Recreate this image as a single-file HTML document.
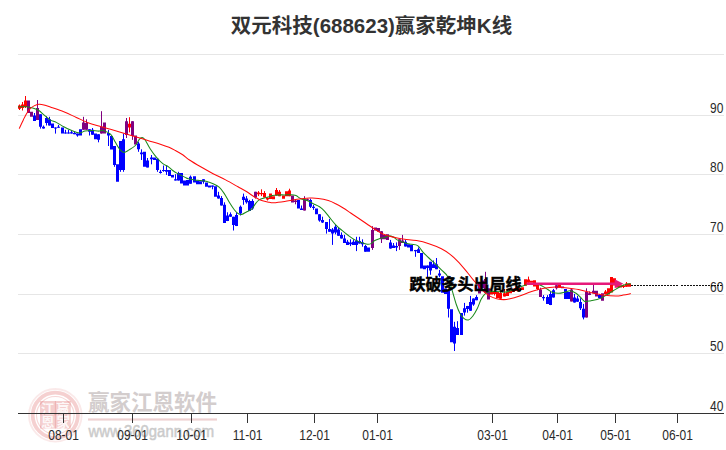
<!DOCTYPE html>
<html lang="zh">
<head>
<meta charset="utf-8">
<title>K线</title>
<style>
html,body{margin:0;padding:0;background:#ffffff;}
body{width:726px;height:450px;overflow:hidden;font-family:"Liberation Sans",sans-serif;}
svg{display:block;}
</style>
</head>
<body>
<svg width="726" height="450" viewBox="0 0 726 450">
<rect x="0" y="0" width="726" height="450" fill="#ffffff"/>
<g stroke="#e6e6e6" stroke-width="1" shape-rendering="crispEdges">
<line x1="18" y1="54.5" x2="724" y2="54.5"/>
<line x1="18" y1="115.5" x2="724" y2="115.5"/>
<line x1="18" y1="174.5" x2="724" y2="174.5"/>
<line x1="18" y1="234.5" x2="724" y2="234.5"/>
<line x1="18" y1="294.5" x2="724" y2="294.5"/>
<line x1="18" y1="353.5" x2="724" y2="353.5"/>
</g>
<g id="wm">
<circle cx="55.3" cy="415.3" r="26.3" fill="none" stroke="#d84a4a" stroke-opacity="0.12" stroke-width="1.8"/>
<circle cx="55.3" cy="415.3" r="22.6" fill="none" stroke="#d84a4a" stroke-opacity="0.26" stroke-width="3.8"/>
<circle cx="55.3" cy="415.3" r="18.8" fill="none" stroke="#d84a4a" stroke-opacity="0.22" stroke-width="1.1"/>
<rect x="40" y="401" width="30.8" height="27.6" fill="#d84a4a" fill-opacity="0.27"/>
<g font-family="'Liberation Sans', 'Noto Sans CJK SC', sans-serif" font-size="13.5" font-weight="bold" fill="#ffffff" fill-opacity="0.85">
<text x="41" y="413.6">江</text>
<text x="56.2" y="413.6">赢</text>
<text x="41" y="427.3">恩</text>
<text x="56.4" y="427.3">家</text>
</g>
<path d="M55.4 401V428.6M40 414.8H70.8" stroke="#d84a4a" stroke-opacity="0.25" stroke-width="0.9" fill="none"/>
<text x="88" y="410" font-family="'Liberation Sans', 'Noto Sans CJK SC', sans-serif" font-size="21.5" font-weight="bold" fill="#d3cdcd">赢家江恩软件</text>
<rect x="88" y="418.4" width="129" height="2.2" fill="#efd2d2"/>
<text x="88.6" y="437" font-family="'Liberation Sans', sans-serif" font-size="16.5" fill="#cbcbcb" stroke="#cbcbcb" stroke-width="0.5" textLength="125.5" lengthAdjust="spacingAndGlyphs">www.360gann.com</text>
</g>
<g stroke="#333333" stroke-width="1" shape-rendering="crispEdges">
<line x1="18" y1="413.5" x2="724" y2="413.5"/>
<line x1="63.5" y1="413" x2="63.5" y2="423"/>
<line x1="132.5" y1="413" x2="132.5" y2="423"/>
<line x1="191.5" y1="413" x2="191.5" y2="423"/>
<line x1="247.5" y1="413" x2="247.5" y2="423"/>
<line x1="314.5" y1="413" x2="314.5" y2="423"/>
<line x1="377.5" y1="413" x2="377.5" y2="423"/>
<line x1="492.5" y1="413" x2="492.5" y2="423"/>
<line x1="557.5" y1="413" x2="557.5" y2="423"/>
<line x1="615.5" y1="413" x2="615.5" y2="423"/>
<line x1="677.5" y1="413" x2="677.5" y2="423"/>
</g>
<g font-family="'Liberation Sans', sans-serif" font-size="12" fill="#2a2a2a">
<text transform="translate(63.6 440) scale(1 1.16)" text-anchor="middle">08-01</text>
<text transform="translate(132.6 440) scale(1 1.16)" text-anchor="middle">09-01</text>
<text transform="translate(191.6 440) scale(1 1.16)" text-anchor="middle">10-01</text>
<text transform="translate(247.6 440) scale(1 1.16)" text-anchor="middle">11-01</text>
<text transform="translate(314.6 440) scale(1 1.16)" text-anchor="middle">12-01</text>
<text transform="translate(377.6 440) scale(1 1.16)" text-anchor="middle">01-01</text>
<text transform="translate(492.6 440) scale(1 1.16)" text-anchor="middle">03-01</text>
<text transform="translate(557.6 440) scale(1 1.16)" text-anchor="middle">04-01</text>
<text transform="translate(615.6 440) scale(1 1.16)" text-anchor="middle">05-01</text>
<text transform="translate(677.6 440) scale(1 1.16)" text-anchor="middle">06-01</text>
<text transform="translate(723.4 113) scale(1 1.16)" text-anchor="end">90</text>
<text transform="translate(723.4 172) scale(1 1.16)" text-anchor="end">80</text>
<text transform="translate(723.4 232) scale(1 1.16)" text-anchor="end">70</text>
<text transform="translate(723.4 292) scale(1 1.16)" text-anchor="end">60</text>
<text transform="translate(723.4 351) scale(1 1.16)" text-anchor="end">50</text>
<text transform="translate(723.4 411) scale(1 1.16)" text-anchor="end">40</text>
</g>
<path d="M631 285.5H679M681 285.5H723" stroke="#111111" stroke-width="1" stroke-dasharray="2 1" shape-rendering="crispEdges" fill="none"/>
<path d="M34.5 113V121M40.5 114.3V128.6M43.5 125.5V128.6M46.5 116.2V125.5M49.5 116.8V125.5M55.5 127.4V133.6M58.5 124.9V127.65M65.5 129.8V133.6M68.5 129.8V133.6M71.5 130.5V133.6M74.5 131.5V134.2M77.5 133.6V136.7M89.5 129.2V135.5M92.5 128V134.8M98.5 134.2V142.3M108.5 129.9V146M114.5 146V166.8M120.5 141V171.8M123.5 133.6V171.8M138.5 141.7V151.8M141.5 149.3V160M147.5 158V167.4M151.5 155V164.3M157.5 158.7V171.8M160.5 169.9V173.6M163.5 165.5V171.8M166.5 165.5V174.9M175.5 174.2V180.5M178.5 171.8V180.5M190.5 175.5V183.7M203.5 179.3V183.7M212.5 185.5V189.3M218.5 191.8V198.6M221.5 196.1V205.5M224.5 202.3V223M227.5 212.3V221.1M230.5 212.4V216.8M233.5 216.8V230.5M236.5 212.4V226.1M240.5 205.5V215.5M243.5 193.6V204.8M246.5 196.1V203.6M249.5 199.9V211M252.5 199.2V209.8M301.5 205.5V209.9M310.5 198.7V208M313.5 204.9V209.9M319.5 214.2V221.7M322.5 216.7V223M326.5 222V233.6M329.5 219V231.8M332.5 228V244.9M335.5 225V234.3M338.5 228V235.8M341.5 232.4V238.6M344.5 234.9V243M347.5 239.9V244.9M350.5 239.3V246.1M353.5 239.3V244.9M356.5 236.8V251.1M359.5 236.8V243.6M362.5 239.3V246.7M365.5 244.9V251.7M390.5 239.9V248.6M393.5 243V248M396.5 242.4V251.1M405.5 239.9V246.5M415.5 249.9V256.8M418.5 247.4V253M427.5 265.5V277.8M430.5 261.8V274.8M433.5 260.5V268M436.5 258V269.2M439.5 269.9V277.2M448.5 290.9V317.5M454.5 321.8V351M457.5 321.2V334.9M464.5 302.9V315.6M467.5 305.9V312.7M470.5 295.9V310.8M473.5 298.4V305.8M476.5 295.2V300.2M543.5 295.1V300.7M547.5 295.1V303.9M550.5 291.4V305.1M553.5 288.9V297.6M574.5 293.9V302.6M577.5 295.8V301.8M580.5 298.2V310M583.5 303.9V319.4M599.5 293.9V298.2" stroke="#0000ff" stroke-width="1" fill="none"/>
<path d="M33 115.5h3v5.5h-3zM39 114.3h3v12.4h-3zM42 126.7h3v1.9h-3zM45 118h3v5h-3zM48 119.3h3v6.2h-3zM51 123.6h3v4.4h-3zM54 127.4h3v1.2h-3zM57 126.65h3v1h-3zM61 127.4h3v6.2h-3zM64 132.6h3v1h-3zM67 132.6h3v1h-3zM70 132.3h3v1.3h-3zM73 133h3v1.2h-3zM76 133.6h3v1.9h-3zM79 129.2h3v6.3h-3zM88 129.2h3v2.5h-3zM91 129.8h3v5h-3zM94 133.6h3v5.6h-3zM97 134.2h3v5.6h-3zM107 133h3v2.5h-3zM110 136h3v13.5h-3zM113 146h3v18.9h-3zM116 164.3h3v17.4h-3zM119 141h3v28.9h-3zM122 139.2h3v30.7h-3zM137 143.4h3v5.9h-3zM140 152.5h3v1.8h-3zM143 151.8h3v15h-3zM146 160.5h3v6.9h-3zM150 157.4h3v1.9h-3zM153 157.4h3v2.6h-3zM156 158.7h3v11.2h-3zM159 171.8h3v1.2h-3zM162 169.9h3v1.2h-3zM165 170h3v1.8h-3zM168 169.9h3v6.2h-3zM171 174.9h3v2.5h-3zM174 179.2h3v1.3h-3zM177 173h3v7.5h-3zM180 173h3v10.6h-3zM183 180.5h3v5h-3zM186 180h3v5.5h-3zM189 176.8h3v6.9h-3zM193 176.2h3v6.2h-3zM196 180.5h3v3.8h-3zM199 181.2h3v3.1h-3zM202 179.3h3v2.5h-3zM205 182.4h3v4.4h-3zM208 185.5h3v1.9h-3zM211 185.5h3v1.3h-3zM214 186.2h3v10.5h-3zM217 195.5h3v3.1h-3zM220 198h3v7.5h-3zM223 204.8h3v18.2h-3zM226 215.5h3v5.6h-3zM229 214.3h3v2.5h-3zM232 216.8h3v8.1h-3zM235 214.9h3v11.2h-3zM239 206.7h3v6.9h-3zM242 196.7h3v3.2h-3zM245 198.6h3v3.7h-3zM248 201.1h3v9.9h-3zM251 201.1h3v7.5h-3zM297 199.9h3v8.7h-3zM300 208.6h3v1.3h-3zM309 199.9h3v6.9h-3zM312 206.8h3v1.2h-3zM315 208.6h3v5.6h-3zM318 214.2h3v6.3h-3zM321 219.9h3v2.5h-3zM325 222h3v7h-3zM328 229h3v2.8h-3zM331 229.5h3v4h-3zM334 226.8h3v5.6h-3zM337 229.5h3v6.3h-3zM340 234.9h3v3.7h-3zM343 238.6h3v4.4h-3zM346 241.8h3v3.1h-3zM349 242.4h3v1.8h-3zM352 241.8h3v3.1h-3zM355 240.5h3v4.4h-3zM358 241.1h3v2.5h-3zM361 242.4h3v1.8h-3zM364 246.1h3v5.6h-3zM367 247.4h3v4.3h-3zM389 242.4h3v6.2h-3zM392 245.5h3v2.5h-3zM395 246.1h3v1.3h-3zM404 241.8h3v4.7h-3zM407 244.3h3v3.1h-3zM410 244.9h3v6.3h-3zM414 249.9h3v1.3h-3zM417 249.3h3v3.7h-3zM420 253h3v15.6h-3zM423 265.5h3v3.7h-3zM426 265.5h3v2.5h-3zM429 261.8h3v8.7h-3zM432 264.2h3v3.8h-3zM435 264.2h3v5h-3zM438 273.6h3v1.9h-3zM441 276.3h3v16.5h-3zM444 288.4h3v5.6h-3zM447 290.9h3v17.9h-3zM450 309.2h3v33.1h-3zM453 326.8h3v16.8h-3zM456 328h3v6.9h-3zM460 313h3v21.9h-3zM463 308.2h3v4.4h-3zM466 305.9h3v3.1h-3zM469 302.1h3v8.7h-3zM472 298.4h3v6.2h-3zM475 297.1h3v3.1h-3zM542 297h3v1.2h-3zM546 297h3v6.9h-3zM549 293.9h3v11.2h-3zM552 290.2h3v7.4h-3zM564 288.9h3v10h-3zM567 292h3v6.9h-3zM573 297.6h3v5h-3zM576 298.5h3v3.3h-3zM579 302h3v6.2h-3zM582 308.8h3v8.7h-3zM598 295.1h3v3.1h-3z" fill="#0000ff"/>
<path d="M19.5 104.5V110M22.5 102V110.5M25.5 96V108M129.5 117.2V132.4M258.5 191.1V196.1M261.5 189.3V196.1M264.5 191.1V197.4M267.5 197.4V200.5M276.5 188V195.6M279.5 190V196.2M289.5 188.7V196.2M494.5 290.5V295.5M500.5 290.8V298.8M504.5 289V296.4M528.5 276.6V282.7M537.5 283.9V290.2M605.5 290V294.5M623.5 284.5V288M626.5 282V286.8" stroke="#ff0000" stroke-width="1" fill="none"/>
<path d="M18 105.5h3v3.2h-3zM21 104.5h3v3.5h-3zM24 100.5h3v6.5h-3zM128 123.7h3v3.7h-3zM257 192.4h3v1.8h-3zM260 193h3v1.2h-3zM263 193h3v4.4h-3zM266 198h3v1.6h-3zM269 193.6h3v5.4h-3zM272 196.2h3v3.1h-3zM275 190h3v5.6h-3zM278 191.8h3v4.4h-3zM282 195.6h3v3.1h-3zM285 191.2h3v5h-3zM288 190.6h3v5.6h-3zM490 290.5h3v4h-3zM493 292h3v1.9h-3zM496 292h3v6.1h-3zM499 293.1h3v5.7h-3zM503 293.3h3v3.1h-3zM506 292h3v3.9h-3zM509 289.5h3v3.8h-3zM512 288.5h3v3.5h-3zM515 287h3v4h-3zM518 288h3v3h-3zM521 287.3h3v2.7h-3zM524 279.3h3v6.5h-3zM527 279.6h3v3.1h-3zM530 280.8h3v1.9h-3zM533 280.2h3v6.2h-3zM536 283.9h3v5h-3zM558 284.5h3v3.2h-3zM604 291.5h3v2.5h-3zM607 288.3h3v6.2h-3zM610 277.1h3v15.5h-3zM613 278.3h3v7.2h-3zM616 284.5h3v3h-3zM619 285.3h3v2.2h-3zM622 285.5h3v1.5h-3zM625 283.4h3v3.4h-3zM628 283.4h3v3.4h-3z" fill="#ff0000"/>
<path d="M37.5 100V120M83.5 116.8V129.8M86.5 119.3V129.8M101.5 111.2V133.6M126.5 118V138M132.5 121.2V139.9M255.5 191.8V198.6M295.5 199.3V204.3M304.5 196.2V210.5M307.5 198.7V200.5M372.5 226.2V249.9M381.5 231.2V243M399.5 239.3V249.9M402.5 234.9V243M485.5 271.8V292.8M540.5 287.7V297M556.5 285.2V289.5M571.5 288.3V301.4M586.5 288.3V317.5M589.5 291.4V295.1M593.5 284.5V293.3" stroke="#800080" stroke-width="1" fill="none"/>
<path d="M27 100.6h3v12.4h-3zM30 111.8h3v5h-3zM36 108h3v12h-3zM82 122.4h3v7.4h-3zM85 123h3v6.8h-3zM100 126.8h3v6.8h-3zM103 122.4h3v11.2h-3zM125 121.2h3v13.7h-3zM131 121.2h3v14.9h-3zM134 135.5h3v9.1h-3zM254 191.8h3v5.6h-3zM291 195.6h3v6.8h-3zM294 200.5h3v1.5h-3zM303 199.3h3v11.2h-3zM306 199.3h3v1.2h-3zM371 229.9h3v18.1h-3zM374 227.6h3v3h-3zM377 228h3v3.8h-3zM380 231.2h3v8.1h-3zM383 234.9h3v4.4h-3zM386 234.3h3v5.6h-3zM398 239.3h3v6.8h-3zM401 240.5h3v2.5h-3zM478 283h3v10.4h-3zM481 280.5h3v7.5h-3zM484 279h3v13.8h-3zM487 288.3h3v11.1h-3zM539 289.5h3v7.5h-3zM555 285.2h3v3.1h-3zM561 286.4h3v1.9h-3zM570 289.5h3v11.9h-3zM585 292h3v25.5h-3zM588 293.3h3v1.8h-3zM592 290.8h3v2.5h-3zM595 290.8h3v5.6h-3zM601 293.3h3v7.4h-3z" fill="#800080"/>
<path d="M18.4 106.8C19.75 106.8 24.12 106.6 26.5 106.8C28.88 107 30.63 107.38 32.7 108C34.77 108.62 37.03 109.35 38.9 110.5C40.77 111.65 42.03 113.33 43.9 114.9C45.77 116.47 48.03 118.65 50.1 119.9C52.17 121.15 54.02 121.27 56.3 122.4C58.58 123.53 61.52 125.47 63.8 126.7C66.08 127.93 67.92 128.87 70 129.8C72.08 130.73 74.63 131.77 76.3 132.3C77.97 132.83 78.55 133.2 80 133C81.45 132.8 83.13 131.52 85 131.1C86.87 130.68 88.92 130.5 91.2 130.5C93.48 130.5 96.73 131.1 98.7 131.1C100.67 131.1 101.03 129.98 103 130.5C104.97 131.02 108.43 132.23 110.5 134.2C112.57 136.17 113.85 139.78 115.4 142.3C116.95 144.82 118.38 147.62 119.8 149.3C121.22 150.98 122.35 152.3 123.9 152.4C125.45 152.5 127.18 151.05 129.1 149.9C131.02 148.75 133.73 147.22 135.4 145.5C137.07 143.78 137.97 140.92 139.1 139.6C140.23 138.28 141.17 137.48 142.2 137.6C143.23 137.72 143.95 138.4 145.3 140.3C146.65 142.2 148.43 146.15 150.3 149C152.17 151.85 154.42 154.95 156.5 157.4C158.58 159.85 160.93 162.23 162.8 163.7C164.67 165.17 166.05 165.07 167.7 166.2C169.35 167.33 171.03 169.27 172.7 170.5C174.37 171.73 175.62 172.45 177.7 173.6C179.78 174.75 183.45 176.55 185.2 177.4C186.95 178.25 186.65 178.28 188.2 178.7C189.75 179.12 192.42 179.6 194.5 179.9C196.58 180.2 198.63 180.25 200.7 180.5C202.77 180.75 204.83 180.87 206.9 181.4C208.97 181.93 211.02 182.7 213.1 183.7C215.18 184.7 217.53 185.75 219.4 187.4C221.27 189.05 222.65 191.12 224.3 193.6C225.95 196.08 227.63 199.6 229.3 202.3C230.97 205 232.85 207.93 234.3 209.8C235.75 211.67 236.75 212.73 238 213.5C239.25 214.27 240.33 214.7 241.8 214.4C243.27 214.1 245.15 212.57 246.8 211.7C248.45 210.83 250.25 210.55 251.7 209.2C253.15 207.85 254.25 205.15 255.5 203.6C256.75 202.05 257.75 200.83 259.2 199.9C260.65 198.97 262.53 198.53 264.2 198C265.87 197.47 267.87 197.1 269.2 196.7C270.53 196.3 270.65 195.9 272.2 195.6C273.75 195.3 276.42 195.02 278.5 194.9C280.58 194.78 282.63 194.93 284.7 194.9C286.77 194.87 289.03 194.58 290.9 194.7C292.77 194.82 294.23 194.93 295.9 195.6C297.57 196.27 299.03 197.88 300.9 198.7C302.77 199.52 305.03 199.67 307.1 200.5C309.17 201.33 311.23 202.65 313.3 203.7C315.37 204.75 317.63 205.57 319.5 206.8C321.37 208.03 322.83 209.33 324.5 211.1C326.17 212.87 327.63 215.12 329.5 217.4C331.37 219.68 333.62 222.63 335.7 224.8C337.78 226.97 339.88 228.62 342 230.4C344.12 232.18 346.25 233.92 348.4 235.5C350.55 237.08 352.78 238.75 354.9 239.9C357.02 241.05 359.03 241.68 361.1 242.4C363.17 243.12 365.63 244 367.3 244.2C368.97 244.4 369.85 244.22 371.1 243.6C372.35 242.98 373.35 241.33 374.8 240.5C376.25 239.67 378.13 239.12 379.8 238.6C381.47 238.08 383.35 237.85 384.8 237.4C386.25 236.95 387.05 235.95 388.5 235.9C389.95 235.85 392.05 236.43 393.5 237.1C394.95 237.77 395.75 239.07 397.2 239.9C398.65 240.73 400.53 241.52 402.2 242.1C403.87 242.68 405.65 243.03 407.2 243.4C408.75 243.77 409.75 243.93 411.5 244.3C413.25 244.67 415.83 244.35 417.7 245.6C419.57 246.85 420.83 249.73 422.7 251.8C424.57 253.87 426.83 256.03 428.9 258C430.97 259.97 433.02 261.62 435.1 263.6C437.18 265.58 439.32 267.75 441.4 269.9C443.48 272.05 445.85 273.2 447.6 276.5C449.35 279.8 450.45 285.03 451.9 289.7C453.35 294.37 454.95 300.53 456.3 304.5C457.65 308.47 458.75 311.2 460 313.5C461.25 315.8 462.4 317.22 463.8 318.3C465.2 319.38 466.92 320.35 468.4 320C469.88 319.65 471.22 318.12 472.7 316.2C474.18 314.28 475.92 311.28 477.3 308.5C478.68 305.72 479.78 301.87 481 299.5C482.22 297.13 483.35 295.58 484.6 294.3C485.85 293.02 486.68 292.28 488.5 291.8C490.32 291.32 492.88 291.33 495.5 291.4C498.12 291.47 501.78 292.25 504.2 292.2C506.62 292.15 507.55 291.87 510 291.1C512.45 290.33 516.38 288.57 518.9 287.6C521.42 286.63 523.4 285.92 525.1 285.3C526.8 284.68 526.98 284.03 529.1 283.9C531.22 283.77 535.52 284.08 537.8 284.5C540.08 284.92 541.13 285.57 542.8 286.4C544.47 287.23 546.13 288.47 547.8 289.5C549.47 290.53 550.93 291.97 552.8 292.6C554.67 293.23 556.93 293.4 559 293.3C561.07 293.2 563.33 292.42 565.2 292C567.07 291.58 568.4 290.58 570.2 290.8C572 291.02 574.22 292.17 576 293.3C577.78 294.43 579.45 296.25 580.9 297.6C582.35 298.95 583.03 300.88 584.7 301.4C586.37 301.92 588.83 301.02 590.9 300.7C592.97 300.38 595.23 300.02 597.1 299.5C598.97 298.98 600.43 298.43 602.1 297.6C603.77 296.77 605.23 295.63 607.1 294.5C608.97 293.37 611.23 292.05 613.3 290.8C615.37 289.55 617.42 288.05 619.5 287C621.58 285.95 623.92 285.05 625.8 284.5C627.68 283.95 629.97 283.83 630.8 283.7" stroke="#1c8a1c" stroke-width="1.05" fill="none" stroke-linejoin="round"/>
<path d="M19.2 128.6C19.88 127.15 22.08 122.38 23.3 119.9C24.52 117.42 25.35 115.57 26.5 113.7C27.65 111.83 28.87 110.05 30.2 108.7C31.53 107.35 33.05 106.33 34.5 105.6C35.95 104.87 37.33 104.42 38.9 104.3C40.47 104.18 41.82 104.38 43.9 104.9C45.98 105.42 48.08 106.25 51.4 107.4C54.72 108.55 59.65 110.13 63.8 111.8C67.95 113.47 72.15 115.53 76.3 117.4C80.45 119.27 84.55 121.45 88.7 123C92.85 124.55 97.57 125.65 101.2 126.7C104.83 127.75 106.88 128.25 110.5 129.3C114.12 130.35 118.75 131.77 122.9 133C127.05 134.23 131.25 135.45 135.4 136.7C139.55 137.95 143.65 139.25 147.8 140.5C151.95 141.75 156.77 143.07 160.3 144.2C163.83 145.33 166.52 146.27 169 147.3C171.48 148.33 172.92 149.15 175.2 150.4C177.48 151.65 180.32 153.2 182.7 154.8C185.08 156.4 186.5 158 189.5 160C192.5 162 196.77 164.52 200.7 166.8C204.63 169.08 208.95 171.52 213.1 173.7C217.25 175.88 221.45 177.72 225.6 179.9C229.75 182.08 234.47 184.82 238 186.8C241.53 188.78 244.1 190.15 246.8 191.8C249.5 193.45 251.72 195.25 254.2 196.7C256.68 198.15 259.2 199.57 261.7 200.5C264.2 201.43 267.23 201.93 269.2 202.3C271.17 202.67 270.92 202.85 273.5 202.7C276.08 202.55 280.77 201.97 284.7 201.4C288.63 200.83 292.95 199.85 297.1 199.3C301.25 198.75 306.07 198.25 309.6 198.1C313.13 197.95 315.18 198 318.3 198.4C321.42 198.8 325.4 199.62 328.3 200.5C331.2 201.38 333.22 202.45 335.7 203.7C338.18 204.95 340.7 206.45 343.2 208C345.7 209.55 348.33 211.42 350.7 213C353.07 214.58 354.63 215.62 357.4 217.5C360.17 219.38 364.4 222.33 367.3 224.3C370.2 226.27 372.3 227.73 374.8 229.3C377.3 230.87 379.82 232.55 382.3 233.7C384.78 234.85 387.22 235.48 389.7 236.2C392.18 236.92 394.7 237.48 397.2 238C399.7 238.52 401.48 238.87 404.7 239.3C407.92 239.73 412.47 239.87 416.5 240.6C420.53 241.33 424.75 242.35 428.9 243.7C433.05 245.05 437.87 246.93 441.4 248.7C444.93 250.47 447.42 252.23 450.1 254.3C452.78 256.37 454.8 258.3 457.5 261.1C460.2 263.9 463.6 267.88 466.3 271.1C469 274.32 470.87 277.07 473.7 280.4C476.53 283.73 480.52 288.43 483.3 291.1C486.08 293.77 488.17 295.13 490.4 296.4C492.63 297.67 494.47 298.17 496.7 298.7C498.93 299.23 501.58 299.6 503.8 299.6C506.02 299.6 507.48 299.27 510 298.7C512.52 298.13 515.3 297.38 518.9 296.2C522.5 295.02 527.42 292.92 531.6 291.6C535.78 290.28 540.07 289.07 544 288.3C547.93 287.53 551.67 287.1 555.2 287C558.73 286.9 561.32 287.28 565.2 287.7C569.08 288.12 574.22 288.68 578.5 289.5C582.78 290.32 586.75 291.67 590.9 292.6C595.05 293.53 599.25 294.53 603.4 295.1C607.55 295.67 612.48 296 615.8 296C619.12 296 620.8 295.5 623.3 295.1C625.8 294.7 629.55 293.85 630.8 293.6" stroke="#ff0a0a" stroke-width="1.05" fill="none" stroke-linejoin="round"/>
<path d="M526.5 282.5H614.7V279.2L623.4 283.7L614.7 288.2V284.9H526.5Z" fill="#e6197a"/>
<text x="409.5" y="290" font-family="'Liberation Sans', 'Noto Sans CJK SC', sans-serif" font-size="16" font-weight="bold" fill="#000000" stroke="#000000" stroke-width="0.5">跌破多头出局线</text>
<text x="371.5" y="33" text-anchor="middle" font-family="'Liberation Sans', 'Noto Sans CJK SC', sans-serif" font-size="20.5" font-weight="bold" fill="#333333">双元科技(688623)赢家乾坤K线</text>
</svg>
</body>
</html>
